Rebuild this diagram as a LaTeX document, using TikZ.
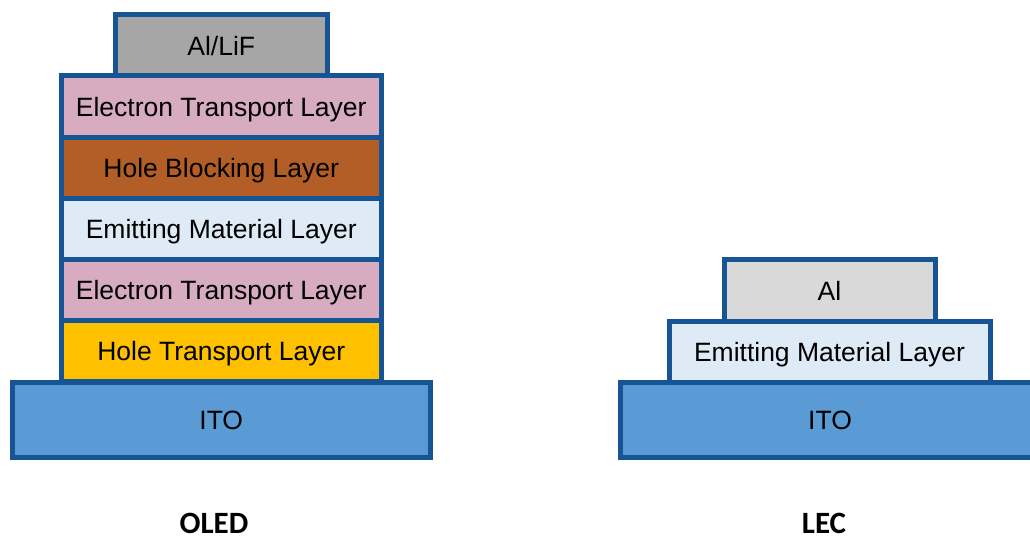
\documentclass[tikz,border=0pt]{standalone}
\usepackage{fontspec}
\setmainfont{Liberation Sans}
\newfontfamily\labelfont{Carlito}
\definecolor{edge}{RGB}{22,84,148}
\definecolor{itoblue}{RGB}{91,155,213}
\definecolor{lifgray}{RGB}{166,166,166}
\definecolor{algray}{RGB}{217,217,217}
\definecolor{etlpink}{RGB}{216,172,192}
\definecolor{hblbrown}{RGB}{178,94,38}
\definecolor{emlblue}{RGB}{222,235,247}
\definecolor{htlgold}{RGB}{255,192,0}
\begin{document}
\begin{tikzpicture}[x=1pt,y=-1pt,
  layer/.style={draw=edge, line width=5pt, rectangle, inner sep=0pt,
    font=\fontsize{26.5}{30}\selectfont, text=black,
    text height=24pt, text depth=4pt},
  caption/.style={font=\labelfont\bfseries\fontsize{31}{34}\selectfont, text=black,
    inner sep=0pt, anchor=base}]
\useasboundingbox (0,0) rectangle (1030,536);
\fill[white] (0,0) rectangle (1030,536);
% OLED stack, substrate first
\node[layer, fill=itoblue, minimum width=417.5pt, minimum height=75.5pt] (oito) at (221.25,419.75) {ITO};
\node[layer, fill=htlgold, minimum width=320.5pt, minimum height=61.5pt] (htl) at (221.25,350.75) {Hole Transport Layer};
\node[layer, fill=etlpink, minimum width=320.5pt, minimum height=61pt] (etlb) at (221.25,289.5) {Electron Transport Layer};
\node[layer, fill=emlblue, minimum width=320.5pt, minimum height=61pt] (oeml) at (221.25,228.5) {Emitting Material Layer};
\node[layer, fill=hblbrown, minimum width=320.5pt, minimum height=60.5pt] (hbl) at (221.25,167.75) {Hole Blocking Layer};
\node[layer, fill=etlpink, minimum width=320.5pt, minimum height=62pt] (etlt) at (221.25,106.5) {Electron Transport Layer};
\node[layer, fill=lifgray, minimum width=211.5pt, minimum height=61pt] (lif) at (221.25,45) {Al/LiF};
% LEC stack
\node[layer, fill=itoblue, minimum width=420pt, minimum height=75.5pt] (lito) at (830,419.75) {ITO};
\node[layer, fill=emlblue, minimum width=321pt, minimum height=61pt] (leml) at (829.5,351.5) {Emitting Material Layer};
\node[layer, fill=algray, minimum width=211pt, minimum height=62pt] (al) at (829.5,290) {Al};
% captions
\node[caption] (oled) at (214,533.5) {OLED};
\node[caption] (lec) at (824,533.5) {LEC};
\end{tikzpicture}
\end{document}
